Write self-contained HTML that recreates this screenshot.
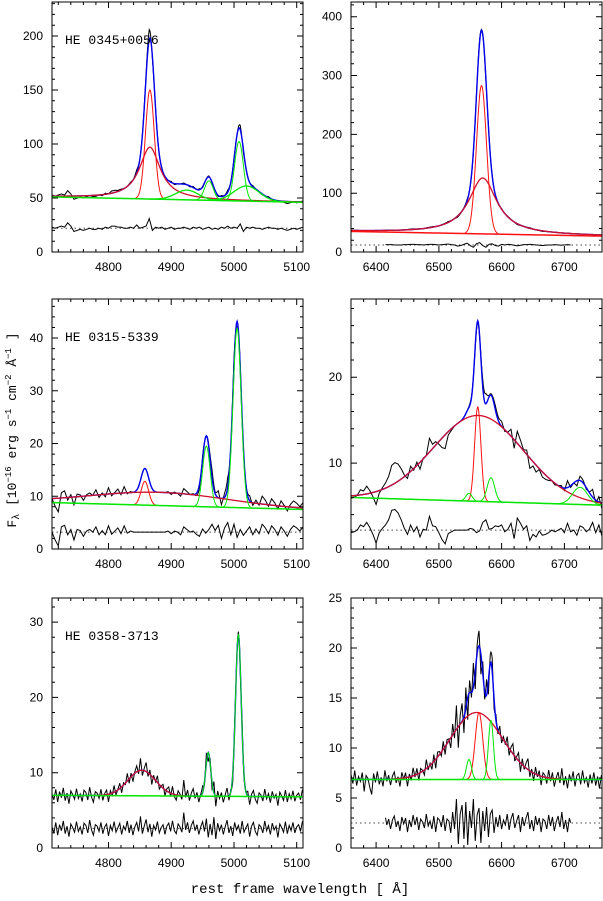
<!DOCTYPE html>
<html><head><meta charset="utf-8"><style>
html,body{margin:0;padding:0;background:#fff;}
svg{display:block;}
text{font-family:"Liberation Sans",sans-serif;}
.mono{font-family:"Liberation Mono",monospace;}
</style></head><body>
<svg id="fig" width="603" height="901" viewBox="0 0 603 901" xmlns="http://www.w3.org/2000/svg">
<text class="mono" transform="translate(16,430) rotate(-90)" text-anchor="middle" font-size="13">F<tspan font-size="10" dy="3">λ</tspan><tspan dy="-3"> [10</tspan><tspan font-size="9" dy="-5">−16</tspan><tspan dy="5"> erg s</tspan><tspan font-size="9" dy="-5">−1</tspan><tspan dy="5"> cm</tspan><tspan font-size="9" dy="-5">−2</tspan><tspan dy="5"> Å</tspan><tspan font-size="9" dy="-5">−1</tspan><tspan dy="5"> ]</tspan></text>
<text class="mono" x="300" y="893" text-anchor="middle" font-size="14">rest frame wavelength [ Å]</text>
</svg>
<script>
// ---- Panel 1: HE 0345+0056 Hbeta ----
const p1Cont = [51, 46];
const p1Centers = [4866, 4866, 4925, 4960, 5008, 5020];
const p1Amps = [48, 101, 9, 18, 55, 14];
const p1Widths = [20, 7, 18, 7, 7, 20];
const p1Kinds = ['L', 'G', 'G', 'G', 'G', 'G'];
const p1Colors = ['red', 'red', 'green', 'green', 'green', 'green'];
const p1Noise = [1,0,1,2,1,5,2,-3,-2,-1,-2,-1,0,-1,-1,0,-1,1,0,2,2,1,1,0,0,1,0,3,0,1,2,9,-2,1,0,1,-1,0,1,-1,0,0,1,0,-1,1,0,1,-1,0,1,-1,0,-1,1,0,2,0,1,0,4,-3,1,0,1,0,0,-1,0,1,0,0,-1,0,-1,-2,-1,0,-1,0,1,0,1];
const p1YTicks = [0, 50, 100, 150, 200];
// ---- Panel 2: HE 0345+0056 Halpha ----
const p2Cont = [35, 27];
const p2Centers = [6570, 6568];
const p2Amps = [95, 252];
const p2Widths = [27, 8];
const p2Kinds = ['L', 'G'];
const p2Colors = ['red', 'red'];
const p2Noise = [1,0.5,0.5,0,-0.5,-1,-1,-0.5,0,0,0,0.5,0.5,0.5,0,0,0,0.5,0.5,1,1,0.5,0.5,0,0.5,1,1,0.5,0,0.5,1,1.5,0.5,0,-2,-1,1,3,-1,-4,2,4,-1,-4,1,2,-1,-2,1,0,1,0.5,-0.5,-1.5,-0.5,0.5,0.5,1,0.5,0,-0.5,-1,-0.5,0,0,0.5,0,-0.5,0,0.5,0,0,0.5,0,0.5,0,0,0.5,0,0,0];
const p2YTicks = [0, 100, 200, 300, 400];
// ---- Panel 3: HE 0315-5339 Hbeta ----
const p3Cont = [8.8, 7.5];
const p3Centers = [4880, 4858, 4956, 5005];
const p3Amps = [2.5, 4.5, 11.5, 34];
const p3Widths = [110, 6, 6, 6.5];
const p3Kinds = ['G', 'G', 'G', 'G'];
const p3Colors = ['red', 'red', 'green', 'green'];
const p3Noise = [0,-1.5,-2.6,1,1.3,-0.5,0.5,-1.5,0.5,0.3,-0.8,0.2,0.5,0,1,-0.5,0.3,-0.5,1.2,-0.4,0.2,0.8,-0.3,1.2,-0.2,0.2,0,0,0,0,0,0,0,0,0,0,0,0.2,-0.3,0.2,0,-0.5,1,0.5,0,0.2,-0.4,-0.8,0.6,-0.2,0.5,1.5,0.3,1.3,-1.2,0.8,1.8,-0.5,1.5,-1,0.5,-0.6,0.2,1,-0.5,0.6,-0.3,1.5,0.8,-0.3,1.2,0.5,-0.6,1,0.2,-0.8,0.5,1.2,0.8,0.2,1];
const p3YTicks = [0, 10, 20, 30, 40];
// ---- Panel 4: HE 0315-5339 Halpha ----
const p4Cont = [6.0, 5.1];
const p4Centers = [6563, 6562, 6548, 6583, 6725];
const p4Amps = [10, 11, 0.9, 2.8, 2.0];
const p4Widths = [72, 5, 5, 6, 12];
const p4Kinds = ['G', 'G', 'G', 'G', 'G'];
const p4Colors = ['red', 'red', 'green', 'green', 'green'];
const p4Noise = [-0.3,-0.2,0,0.6,0.4,0.9,0.3,-0.5,-1.5,-0.3,0.2,0.6,1.2,2.3,2.4,2.0,1.2,0.2,-0.5,0.6,-0.2,0.4,-0.8,0.1,0,1.6,0.5,0.4,-0.3,-1.1,-1.6,-0.4,-0.2,0,0,0,0,0,0.2,0.1,-0.3,-0.1,0.9,1.2,0.1,0.2,0.5,0.4,0.6,-0.2,0.1,0.8,-1.0,1.4,0.8,0.1,0.5,-1.2,-0.5,-0.8,-0.1,-0.6,-0.5,-0.3,0,-0.2,0,0.2,-0.3,0.8,-0.2,0,-0.6,0.5,0.3,-0.2,0.1,0.9,-0.3,0.6,-0.7];
const p4YTicks = [0, 10, 20];
// ---- Panel 5: HE 0358-3713 Hbeta ----
const p5Cont = [7.0, 6.8];
const p5Centers = [4853, 4959, 5007];
const p5Amps = [3.4, 5.8, 21.5];
const p5Widths = [22, 4, 4.5];
const p5Kinds = ['G', 'G', 'G'];
const p5Colors = ['red', 'green', 'green'];
const p5Noise = [0.2,-0.6,0.8,-0.9,0.5,-0.3,1.0,-0.7,0.3,-1.1,0.6,0.1,-0.5,0.9,-0.4,0.2,-0.8,0.7,0.4,-0.6,1.1,-0.2,-0.9,0.5,0.3,-0.4,0.8,-0.7,0.2,0.6,-1.0,0.4,-0.3,0.9,-0.5,0.1,0.7,-0.8,0.3,-0.2,1.0,-0.6,0.5,-0.9,0.2,0.8,-0.4,1.6,-0.7,0.3,1.2,-0.5,0.6,-1.1,0.4,-0.2,0.9,-0.6,0.1,0.5,-0.8,0.3,0.7,-0.4,1.0,-0.3,-0.7,0.6,0.2,-0.5,2.1,-0.2,0.8,-0.6,0.4,1.0,-0.3,0.5,-0.8,0.2,0.9,-0.4,1.3,-1.2,0.6,-0.9,1.5,-1.4,0.7,-0.3,0.5,-0.8,0.2,1.1,-0.6,0.3,-1.0,0.8,-0.2,0.4,-0.7,1.0,-0.5,0.1,0.6,-1.1,0.3,0.8,-0.4,-0.9,0.5,0.2,-0.6,1.0,-0.3,0.4,-0.8,0.7,-0.2,0.3,-1.2,0.6,0.1,-0.5,0.9,-0.7,0.4,-0.3,0.8,-0.6,0.2,0.5,-0.4,0.9];
const p5YTicks = [0, 10, 20, 30];
// ---- Panel 6: HE 0358-3713 Halpha ----
const p6Cont = [6.85, 6.85];
const p6Centers = [6560, 6564, 6548, 6583];
const p6Amps = [6.7, 6.7, 2.0, 5.9];
const p6Widths = [42, 6, 4, 4];
const p6Kinds = ['G', 'G', 'G', 'G'];
const p6Colors = ['red', 'red', 'green', 'green'];
const p6Noise = [0.5,-0.4,0.9,-0.6,0.3,-0.2,0.7,-1.2,0.4,0.1,-0.8,-1.5,0.6,-0.3,0.8,-0.5,0.2,-0.7,0.9,-0.2,0.4,-0.6,0.3,0.7,-0.4,0.2,-0.8,0.6,-0.1,0.5,-0.9,0.3,-0.4,0.8,-0.2,0.6,-0.7,0.4,0.1,-0.5,0.9,-0.3,0.2,-0.6,0.7,-0.9,0.5,0.3,-0.4,0.8,-0.8,0.4,0.2,-1.0,1.1,-0.6,2.4,-2.1,0.9,1.8,-1.6,2.1,-2.2,1.2,-0.5,2.4,-1.8,0.8,1.5,-2.0,1.2,-0.8,1.6,-1.4,0.9,1.3,-1.0,0.6,-0.4,0.8,-0.6,0.3,-0.2,0.9,-0.7,0.4,1.0,-0.5,0.2,0.8,-0.9,0.6,-0.3,0.5,1.1,-0.6,0.3,-0.8,0.7,-0.2,0.5,-0.9,0.4,0.2,-0.6,0.8,-0.3,0.6,-0.8,0.1,0.7,-0.4,1.1,-0.6,0.3,-0.9,0.5,-0.2,0.8,-0.7,0.4,0.6,-0.5,0.9,-0.3,0.2,-0.8,0.5,-0.4,0.7,-0.6,0.3,-0.9,0.4];
const p6YTicks = [0, 5, 10, 15, 20, 25];
const xTicksBlue = [4800, 4900, 5000, 5100];
const xTicksRed = [6400, 6500, 6600, 6700];

const NS = 'http://www.w3.org/2000/svg';
const svg = document.getElementById('fig');
const C = {red:'#ff1010', green:'#00e600', blue:'#0000ee', broad:'#d0102a'};

const panels = [
 {id:'p1', name:'HE 0345+0056', bx:52, by:2, xmin:4710, xmax:5110, ymax:231.5, cont:p1Cont, cen:p1Centers, amp:p1Amps, wid:p1Widths, kind:p1Kinds, col:p1Colors, noise:p1Noise, step:5, base:22, rr:[4710,5110], yt:p1YTicks, ym:10, xt:xTicksBlue, contCol:'green'},
 {id:'p2', bx:351, by:2, xmin:6360, xmax:6760, ymax:425, cont:p2Cont, cen:p2Centers, amp:p2Amps, wid:p2Widths, kind:p2Kinds, col:p2Colors, noise:p2Noise, step:5, base:12, rr:[6415,6710], yt:p2YTicks, ym:20, xt:xTicksRed, contCol:'red'},
 {id:'p3', name:'HE 0315-5339', bx:52, by:299, xmin:4710, xmax:5110, ymax:47.4, cont:p3Cont, cen:p3Centers, amp:p3Amps, wid:p3Widths, kind:p3Kinds, col:p3Colors, noise:p3Noise, step:5, base:3.2, rr:[4710,5110], yt:p3YTicks, ym:2, xt:xTicksBlue, contCol:'green'},
 {id:'p4', bx:351, by:299, xmin:6360, xmax:6760, ymax:29.1, cont:p4Cont, cen:p4Centers, amp:p4Amps, wid:p4Widths, kind:p4Kinds, col:p4Colors, noise:p4Noise, step:5, base:2.2, rr:[6360,6760], yt:p4YTicks, ym:2, xt:xTicksRed, contCol:'green'},
 {id:'p5', name:'HE 0358-3713', bx:52, by:598, xmin:4710, xmax:5110, ymax:33.2, cont:p5Cont, cen:p5Centers, amp:p5Amps, wid:p5Widths, kind:p5Kinds, col:p5Colors, noise:p5Noise, step:3, base:2.6, rr:[4710,5110], yt:p5YTicks, ym:2, xt:xTicksBlue, contCol:'green'},
 {id:'p6', bx:351, by:598, xmin:6360, xmax:6760, ymax:25, cont:p6Cont, cen:p6Centers, amp:p6Amps, wid:p6Widths, kind:p6Kinds, col:p6Colors, noise:p6Noise, step:3, base:2.5, rr:[6415,6710], yt:p6YTicks, ym:1, xt:xTicksRed, contCol:'green'}
];
const BW = 251, BH = 250;

function mk(tag, attrs, parent){
  const e = document.createElementNS(NS, tag);
  for (const k in attrs) e.setAttribute(k, attrs[k]);
  (parent||svg).appendChild(e);
  return e;
}

function drawPanel(P){
  const sx = x => P.bx + (x - P.xmin) / (P.xmax - P.xmin) * BW;
  const sy = y => P.by + BH - y / P.ymax * BH;
  const cont = x => P.cont[0] + (P.cont[1] - P.cont[0]) * (x - P.xmin) / (P.xmax - P.xmin);
  const prof = (i, x) => {
    const d = (x - P.cen[i]) / P.wid[i];
    return P.kind[i] === 'L' ? P.amp[i] / (1 + d*d) : P.amp[i] * Math.exp(-0.5*d*d);
  };
  const model = x => { let s = cont(x); for (let i=0;i<P.cen.length;i++) s += prof(i,x); return s; };
  const noise = x => {
    const f = (x - P.xmin) / P.step, i = Math.floor(f), t = f - i;
    const a = P.noise[Math.max(0, Math.min(P.noise.length-1, i))];
    const b = P.noise[Math.max(0, Math.min(P.noise.length-1, i+1))];
    return a + (b - a) * t;
  };
  const g = mk('g', {'clip-path':'url(#clip-'+P.id+')'});
  
  
  const cp = mk('clipPath', {id:'clip-'+P.id});
  mk('rect', {x:P.bx, y:P.by, width:BW, height:BH}, cp);
  const pathFrom = (f, a, b, st) => {
    let d = '';
    for (let x=a; x<=b+1e-9; x+=st) d += (d?'L':'M') + sx(x).toFixed(2) + ' ' + sy(f(x)).toFixed(2);
    return d;
  };
  const obs = mk('path', {d:pathFrom(x => model(x)+noise(x), P.xmin, P.xmax, 1), fill:'none', stroke:'#000', 'stroke-width':1}, g);
  
  
  const dl = mk('line', {x1:sx(P.xmin), x2:sx(P.xmax), y1:sy(P.base), y2:sy(P.base), stroke:'#444', 'stroke-width':1, 'stroke-dasharray':'1.5 3'}, g);
  
  
  const res = mk('path', {d:pathFrom(x => P.base+noise(x), P.rr[0], P.rr[1], 1), fill:'none', stroke:'#000', 'stroke-width':1}, g);
  
  
  const bl = mk('path', {d:pathFrom(model, P.xmin, P.xmax, 1), fill:'none', stroke:C.blue, 'stroke-width':1.4}, g);
  
  
  for (let i=0;i<P.cen.length;i++){
    const broad = P.kind[i]==='L' || P.wid[i] > 15;
    const span = P.kind[i]==='L' ? 1e4 : 3.3*P.wid[i];
    const a = Math.max(P.xmin, P.cen[i]-span), b = Math.min(P.xmax, P.cen[i]+span);
    const colr = P.col[i]==='red' ? (broad ? C.broad : C.red) : C.green;
    const cpth = mk('path', {d:pathFrom(x => cont(x)+prof(i,x), a, b, 0.5), fill:'none', stroke:colr, 'stroke-width':broad?1.3:1}, g);
    
    
  }
  const cl = mk('path', {d:pathFrom(cont, P.xmin, P.xmax, 5), fill:'none', stroke:P.contCol==='red'?C.red:C.green, 'stroke-width':1.5}, g);
  
  
  const fr = mk('rect', {x:P.bx, y:P.by, width:BW, height:BH, fill:'none', stroke:'#000', 'stroke-width':1});
  
  
  let td = '';
  for (let x=Math.ceil(P.xmin/20)*20; x<=P.xmax; x+=20){
    const L = x%100===0 ? 6 : 3, X = sx(x).toFixed(1);
    td += `M${X} ${P.by+BH}v${-L}M${X} ${P.by}v${L}`;
  }
  const ymaj = P.yt[1]-P.yt[0];
  for (let y=0; y<=P.ymax+1e-9; y+=P.ym){
    const isMaj = Math.abs(y/ymaj - Math.round(y/ymaj)) < 1e-6;
    const L = isMaj ? 6 : 3, Y = sy(y).toFixed(1);
    td += `M${P.bx} ${Y}h${L}M${P.bx+BW} ${Y}h${-L}`;
  }
  const tk = mk('path', {d:td, stroke:'#000', 'stroke-width':1, fill:'none'});
  
  
  for (const x of P.xt){
    const t = mk('text', {x:sx(x), y:P.by+BH+19, 'text-anchor':'middle', 'font-size':12});
    t.textContent = x;
    
    
  }
  for (const y of P.yt){
    const t = mk('text', {x:P.bx-9, y:sy(y)+4, 'text-anchor':'end', 'font-size':12});
    t.textContent = y;
    
    
  }
  if (P.name){
    const t = mk('text', {x:P.bx+13, y:P.by+42, 'font-size':13, class:'mono'});
    t.textContent = P.name;
    
    
  }
}
panels.forEach(drawPanel);
</script>
</body></html>
